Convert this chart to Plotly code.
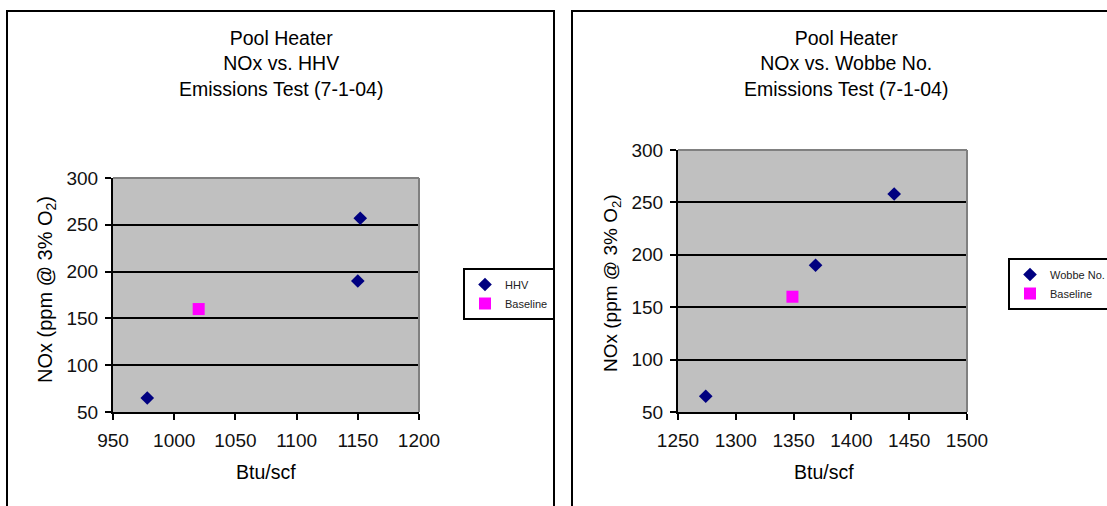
import plotly.graph_objects as go

W, H = 1107, 506

# ---------------- data ----------------
hhv_x = [978, 1152, 1150]
hhv_y = [65, 257, 190]
hhv_base_x = [1020]
hhv_base_y = [160]

wobbe_x = [1274, 1369, 1437]
wobbe_y = [65, 190, 258]
wobbe_base_x = [1349]
wobbe_base_y = [160]

x1_ticks = [950, 1000, 1050, 1100, 1150, 1200]
x2_ticks = [1250, 1300, 1350, 1400, 1450, 1500]
y_ticks = [50, 100, 150, 200, 250, 300]

title1 = "Pool Heater<br>NOx vs. HHV<br>Emissions Test (7-1-04)"
title2 = "Pool Heater<br>NOx vs. Wobbe No.<br>Emissions Test (7-1-04)"
x_title = "Btu/scf"
y_title = "NOx (ppm @ 3% O<sub>2</sub>)"

FONT = "Liberation Sans, Arial, sans-serif"
NAVY = "#000080"
MAGENTA = "#FF00FF"
PLOTBG = "#C0C0C0"

fig = go.Figure()

fig.add_trace(go.Scatter(x=hhv_x, y=hhv_y, mode="markers", name="HHV",
                         marker=dict(symbol="diamond", size=10.5, color=NAVY),
                         xaxis="x", yaxis="y", legend="legend"))
fig.add_trace(go.Scatter(x=hhv_base_x, y=hhv_base_y, mode="markers", name="Baseline",
                         marker=dict(symbol="square", size=12, color=MAGENTA),
                         xaxis="x", yaxis="y", legend="legend"))
fig.add_trace(go.Scatter(x=wobbe_x, y=wobbe_y, mode="markers", name="Wobbe No.",
                         marker=dict(symbol="diamond", size=10.5, color=NAVY),
                         xaxis="x2", yaxis="y2", legend="legend2"))
fig.add_trace(go.Scatter(x=wobbe_base_x, y=wobbe_base_y, mode="markers", name="Baseline",
                         marker=dict(symbol="square", size=12, color=MAGENTA),
                         xaxis="x2", yaxis="y2", legend="legend2"))

def xaxis(domain, ticks, anchor):
    return dict(domain=domain, range=[ticks[0], ticks[-1]], tickvals=ticks,
                showgrid=False, zeroline=False, showline=True, linecolor="black",
                linewidth=2, ticks="outside", ticklen=6, tickwidth=2, tickcolor="black",
                tickfont=dict(family=FONT, size=19, color="#111"), anchor=anchor,
                fixedrange=True, ticklabelstandoff=4, automargin=False)

def yaxis(domain, anchor):
    return dict(domain=domain, range=[y_ticks[0], y_ticks[-1]], tickvals=y_ticks,
                showgrid=True, gridcolor="black", gridwidth=2, zeroline=False,
                showline=True, linecolor="black", linewidth=2, ticks="outside",
                ticklen=6, tickwidth=2, tickcolor="black",
                tickfont=dict(family=FONT, size=19, color="#111"), anchor=anchor,
                fixedrange=True, ticklabelstandoff=3, automargin=False)

legend_common = dict(bgcolor="white", bordercolor="black", borderwidth=2,
                     font=dict(family=FONT, size=11, color="#222"),
                     xanchor="left", yanchor="top", tracegroupgap=0,
                     itemclick=False, itemdoubleclick=False)

shapes = [
    # outer panel frames
    dict(type="rect", xref="paper", yref="paper", x0=7 / W, x1=554 / W,
         y0=-0.1, y1=1 - 11 / H, line=dict(color="black", width=2)),
    dict(type="rect", xref="paper", yref="paper", x0=572 / W, x1=1.1,
         y0=-0.1, y1=1 - 11 / H, line=dict(color="black", width=2)),
]
# gray top / right plot-area borders
for xr, yr in (("x domain", "y domain"), ("x2 domain", "y2 domain")):
    shapes.append(dict(type="line", xref=xr, yref=yr, x0=0, x1=1, y0=1, y1=1,
                       line=dict(color="#808080", width=2), layer="above"))
    shapes.append(dict(type="line", xref=xr, yref=yr, x0=1, x1=1, y0=0, y1=1,
                       line=dict(color="#808080", width=2), layer="above"))

ann_font_title = dict(family=FONT, size=19.5, color="black")
annotations = [
    dict(text=title1, x=281 / W, y=1 - 63.5 / H,
         xref="paper", yref="paper", showarrow=False, xanchor="center", yanchor="middle",
         font=ann_font_title),
    dict(text=title2, x=846 / W, y=1 - 63.5 / H,
         xref="paper", yref="paper", showarrow=False, xanchor="center", yanchor="middle",
         font=ann_font_title),
    dict(text=x_title, x=266 / W, y=1 - 472 / H, xref="paper", yref="paper",
         showarrow=False, xanchor="center", yanchor="middle", font=ann_font_title),
    dict(text=x_title, x=824 / W, y=1 - 472 / H, xref="paper", yref="paper",
         showarrow=False, xanchor="center", yanchor="middle", font=ann_font_title),
    dict(text=y_title, x=46 / W, y=1 - 290 / H, xref="paper", yref="paper",
         showarrow=False, xanchor="center", yanchor="middle", textangle=-90,
         font=dict(family=FONT, size=20, color="black")),
    dict(text=y_title, x=612 / W, y=1 - 283 / H, xref="paper", yref="paper",
         showarrow=False, xanchor="center", yanchor="middle", textangle=-90,
         font=dict(family=FONT, size=19, color="black")),
]

fig.update_layout(
    width=W, height=H,
    margin=dict(l=0, r=0, t=0, b=0, autoexpand=False),
    paper_bgcolor="white",
    plot_bgcolor=PLOTBG,
    font=dict(family=FONT, color="black"),
    xaxis=xaxis([113 / W, 419 / W], x1_ticks, "y"),
    yaxis=yaxis([1 - 412 / H, 1 - 178 / H], "x"),
    xaxis2=xaxis([678 / W, 967 / W], x2_ticks, "y2"),
    yaxis2=yaxis([1 - 412 / H, 1 - 150 / H], "x2"),
    legend=dict(x=463 / W, y=1 - 268 / H, **legend_common),
    legend2=dict(x=1008 / W, y=1 - 258 / H, **legend_common),
    shapes=shapes,
    annotations=annotations,
    showlegend=True,
)

fig.write_html("out.html", config={"displayModeBar": False})
